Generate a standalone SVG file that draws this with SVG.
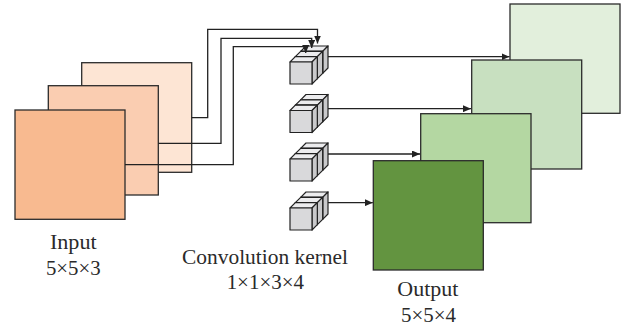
<svg xmlns="http://www.w3.org/2000/svg" xmlns:xlink="http://www.w3.org/1999/xlink" width="628" height="332" viewBox="0 0 628 332">
<style>
.sq{stroke:#2b2b2b;stroke-width:1.3}
.ln{fill:none;stroke:#222;stroke-width:1.3}
.cf{fill:#d9d9db;stroke:#222;stroke-width:1.2;stroke-linejoin:round}
.ct{fill:#ececee;stroke:#222;stroke-width:1.2;stroke-linejoin:round}
.cr{fill:#c9c9cb;stroke:#222;stroke-width:1.2;stroke-linejoin:round}
.lbl{font-family:"Liberation Serif","Times New Roman",serif;font-size:20px;fill:#2a2a2a;text-anchor:middle}
</style>
<defs>
<marker id="ah" markerUnits="userSpaceOnUse" markerWidth="9" markerHeight="7" refX="8" refY="3.5" orient="auto">
<path d="M0,0 L8,3.5 L0,7 z" fill="#222"/>
</marker>
<g id="kshape">
<polygon class="ct" points="10.67,-10.67 32.67,-10.67 38,-16 16,-16"/>
<polygon class="cr" points="32.67,-10.67 38,-16 38,6 32.67,11.33"/>
<rect class="cf" x="10.67" y="-10.67" width="22" height="22"/>
<polygon class="ct" points="5.33,-5.33 27.33,-5.33 32.67,-10.67 10.67,-10.67"/>
<polygon class="cr" points="27.33,-5.33 32.67,-10.67 32.67,11.33 27.33,16.67"/>
<rect class="cf" x="5.33" y="-5.33" width="22" height="22"/>
<polygon class="ct" points="0,0 22,0 27.33,-5.33 5.33,-5.33"/>
<polygon class="cr" points="22,0 27.33,-5.33 27.33,16.67 22,22"/>
<rect class="cf" x="0" y="0" width="22" height="22"/>
</g>
</defs>
<g id="input">
<rect class="sq" x="81.7" y="62.7" width="110" height="109.6" fill="#fde5d4"/>
<rect class="sq" x="48.3" y="85.7" width="110" height="109.3" fill="#facdb1"/>
<rect class="sq" x="15" y="110" width="110" height="109.3" fill="#f8ba90"/>
</g>
<g id="output">
<rect class="sq" x="510" y="4" width="110" height="109.3" fill="#e2efdc"/>
<rect class="sq" x="471.7" y="60" width="110" height="109" fill="#c8e0c0"/>
<rect class="sq" x="420.7" y="113.7" width="110.3" height="109" fill="#b4d7a2"/>
<rect class="sq" x="373.3" y="160.7" width="110" height="109.3" fill="#639440"/>
</g>
<g id="kernel1"><use xlink:href="#kshape" href="#kshape" x="290" y="62"/></g>
<g id="kernel2"><use xlink:href="#kshape" href="#kshape" x="290" y="110.5"/></g>
<g id="kernel3"><use xlink:href="#kshape" href="#kshape" x="290" y="159"/></g>
<g id="kernel4"><use xlink:href="#kshape" href="#kshape" x="290" y="208"/></g>
<g id="connectors">
<polyline class="ln" points="191.7,117.7 207.7,117.7 207.7,29.3 317.5,29.3 317.5,43.5" marker-end="url(#ah)"/>
<polyline class="ln" points="158.3,143.3 221,143.3 221,38.3 311.7,38.3 311.7,48" marker-end="url(#ah)"/>
<polyline class="ln" points="125,164.7 233.3,164.7 233.3,46.7 305.7,46.7 305.7,53" marker-end="url(#ah)"/>
<line class="ln" x1="328" y1="56.7" x2="509.5" y2="56.7" marker-end="url(#ah)"/>
<line class="ln" x1="328" y1="108.7" x2="471" y2="108.7" marker-end="url(#ah)"/>
<line class="ln" x1="328" y1="154" x2="420" y2="154" marker-end="url(#ah)"/>
<line class="ln" x1="328" y1="202.7" x2="372.8" y2="202.7" marker-end="url(#ah)"/>
</g>
<g id="labels">
<text class="lbl" x="73.3" y="249" textLength="46.7" lengthAdjust="spacingAndGlyphs">Input</text>
<text class="lbl" x="73.3" y="275" textLength="54.7" lengthAdjust="spacingAndGlyphs">5×5×3</text>
<text class="lbl" x="265" y="264" textLength="166" lengthAdjust="spacingAndGlyphs">Convolution kernel</text>
<text class="lbl" x="265.3" y="289" textLength="77.3" lengthAdjust="spacingAndGlyphs">1×1×3×4</text>
<text class="lbl" x="427.8" y="296" textLength="61" lengthAdjust="spacingAndGlyphs">Output</text>
<text class="lbl" x="428.5" y="321.7" textLength="55" lengthAdjust="spacingAndGlyphs">5×5×4</text>
</g>
</svg>
